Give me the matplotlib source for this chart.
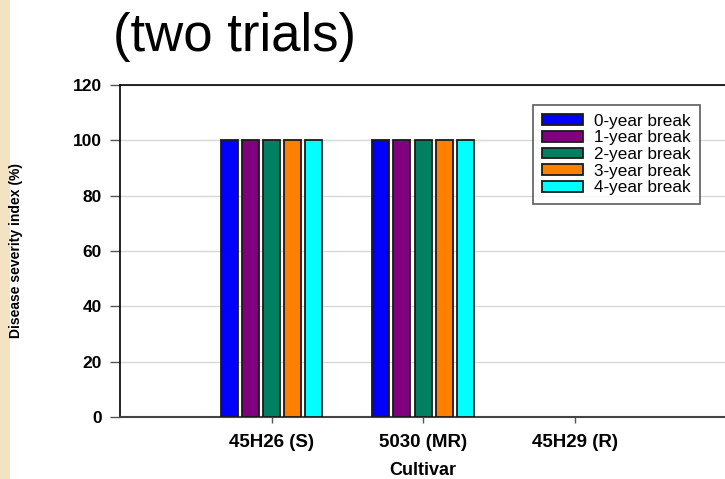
import matplotlib
matplotlib.use("Agg")
import matplotlib.pyplot as plt
import numpy as np
from matplotlib.patches import Rectangle

cultivars = ["45H26 (S)", "5030 (MR)", "45H29 (R)"]
series_names = ["0-year break", "1-year break", "2-year break", "3-year break", "4-year break"]
values = {
    "0-year break": [100, 100, 0],
    "1-year break": [100, 100, 0],
    "2-year break": [100, 100, 0],
    "3-year break": [100, 100, 0],
    "4-year break": [100, 100, 0],
}
colors = ["#0000ff", "#800080", "#008060", "#ff8000", "#00ffff"]
yticks = [0, 20, 40, 60, 80, 100, 120]

plt.rcParams['font.family'] = ['Liberation Sans', 'DejaVu Sans']

fig = plt.figure(figsize=(7.25, 4.79), dpi=100)
fig.patch.set_facecolor("white")
fig.patches.append(Rectangle((0, 0), 10/725, 1, transform=fig.transFigure,
                             facecolor="#f3e3c3", edgecolor="none", zorder=-5))

ax = fig.add_axes([120/725, 1-417/479, 1-120/725, (417-85)/479])
x = np.arange(len(cultivars))
pitch = 0.139
width = 0.112
for i, name in enumerate(series_names):
    vals = values[name]
    pos = x + (i - 2) * pitch
    lws = [1.3 if v > 0 else 0 for v in vals]
    ax.bar(pos, vals, width=width, color=colors[i], edgecolor="#1a1a1a",
           linewidth=lws, label=name, zorder=3)

ax.set_xlim(-1.0, 2.993)
ax.set_ylim(0, 120)
ax.set_yticks(yticks)
ax.set_yticklabels([str(v) for v in yticks], fontweight="bold", fontsize=12.5)
ax.set_xticks(x)
ax.set_xticklabels(cultivars, fontweight="bold", fontsize=13.5)
ax.tick_params(axis="y", direction="out", length=7, width=1, pad=6, colors="#555555", labelcolor="black")
ax.tick_params(axis="x", direction="out", length=4, width=1, pad=8, colors="#555555", labelcolor="black")
ax.grid(axis="y", color="#d8d8d8", linewidth=1, zorder=0)
ax.set_axisbelow(True)
ax.spines["right"].set_visible(False)
ax.spines["top"].set_linewidth(1.2)
ax.spines["left"].set_linewidth(1.2)
ax.spines["bottom"].set_linewidth(1.5)
ax.spines["bottom"].set_color("#444444")

ax.set_xlabel("Cultivar", fontweight="bold", fontsize=13)
ax.xaxis.set_label_coords(0.5, (417-462)/332)
ax.set_ylabel("Disease severity index (%)", fontweight="bold", fontsize=10)
ax.yaxis.set_label_coords((23-120)/605, 0.5)

leg = ax.legend(loc="upper left", bbox_to_anchor=((533-120)/605, (417-105)/332),
                borderaxespad=0,
                fontsize=12.3, frameon=True, fancybox=False, edgecolor="#333333",
                handlelength=2.4, handleheight=0.6, labelspacing=0.1,
                borderpad=0.5, handletextpad=0.7)
leg.get_frame().set_linewidth(1.2)

fig.text(113/725, 1-37/479, "(two trials)", fontsize=38, va="center", ha="left")

fig.savefig("out.png", dpi=100)
